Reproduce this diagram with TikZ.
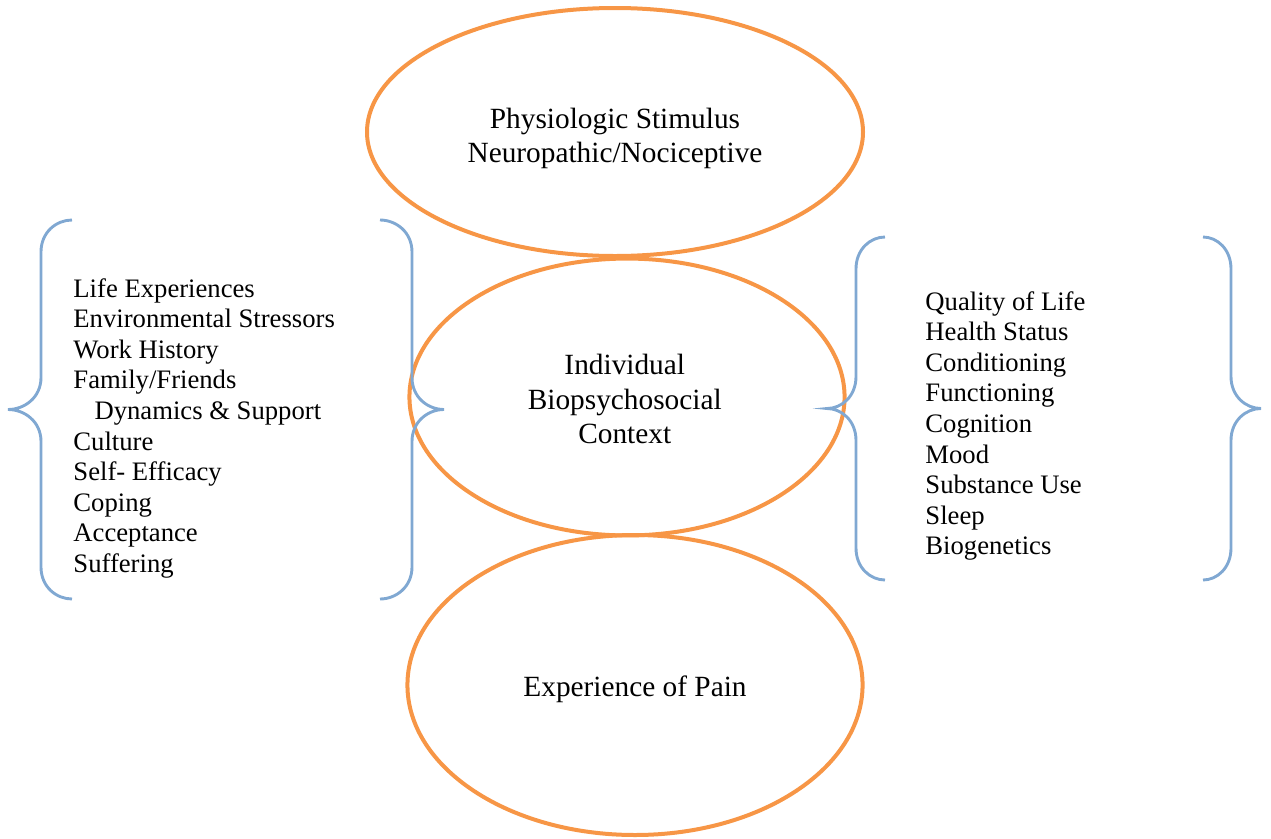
\documentclass[tikz,border=0pt]{standalone}
\usepackage{fontspec}
\setmainfont{Liberation Serif}
\usetikzlibrary{shapes.geometric}

\definecolor{ringorange}{RGB}{247,150,70}
\definecolor{braceblue}{RGB}{128,168,210}

% curly brace: end x, line x, tip x, top y, bottom y
\newcommand{\curlybrace}[5]{%
  \draw[brace] (#1,#4) .. controls ({(#1+#2)/2},#4) and (#2,{#4+12}) .. (#2,{#4+32})
    -- (#2,{(#4+#5)/2-32}) .. controls (#2,{(#4+#5)/2-12}) and ({(#2+#3)/2},{(#4+#5)/2}) .. (#3,{(#4+#5)/2})
    .. controls ({(#2+#3)/2},{(#4+#5)/2}) and (#2,{(#4+#5)/2+12}) .. (#2,{(#4+#5)/2+32})
    -- (#2,{#5-32}) .. controls (#2,{#5-12}) and ({(#1+#2)/2},#5) .. (#1,#5);}

\begin{document}
\begin{tikzpicture}[x=0.45pt, y=-0.45pt,
  ring/.style={ellipse, draw=ringorange, line width=1.8pt, inner sep=0pt},
  ringtext/.style={align=center, inner sep=0pt, font=\fontsize{13.2}{15.6}\selectfont},
  brace/.style={draw=braceblue, line width=1.3pt},
  item/.style={anchor=base west, inner sep=0pt, font=\fontsize{12}{13.8}\selectfont}]
  \useasboundingbox (0,0) rectangle (1271,838);

  % the three stages
  \node[ring, minimum width=223.2pt, minimum height=111.6pt] (stimulus) at (615,132) {};
  \node[ring, minimum width=195.8pt, minimum height=124.6pt] (context) at (627,397) {};
  \node[ring, minimum width=204.8pt, minimum height=135pt] (pain) at (635,685) {};
  \node[ringtext, yshift=-2.9pt] (stimulustext) at (stimulus) {Physiologic Stimulus\\Neuropathic/Nociceptive};
  \node[ringtext, xshift=-1pt, yshift=-1pt] (contexttext) at (context) {Individual\\Biopsychosocial\\Context};
  \node[ringtext, yshift=-1.8pt] (paintext) at (pain) {Experience of Pain};

  % braces
  \curlybrace{72}{41}{8}{220}{599}
  \curlybrace{380}{412}{444}{220}{599}
  \curlybrace{885}{856}{827}{237}{580}
  \curlybrace{1203}{1231}{1261}{237}{580}

  % psychosocial factors
  \foreach \t [count=\i] in {Life Experiences, Environmental Stressors, Work History,
      Family/Friends, {\hspace*{9.5pt}Dynamics \& Support}, Culture, Self- Efficacy,
      Coping, Acceptance, Suffering}
    \node[item] (left\i) at (73,{297+30.6*(\i-1)}) {\t};

  % outcomes
  \foreach \t [count=\i] in {Quality of Life, Health Status, Conditioning, Functioning,
      Cognition, Mood, Substance Use, Sleep, Biogenetics}
    \node[item] (right\i) at (925,{310+30.6*(\i-1)}) {\t};
\end{tikzpicture}
\end{document}
